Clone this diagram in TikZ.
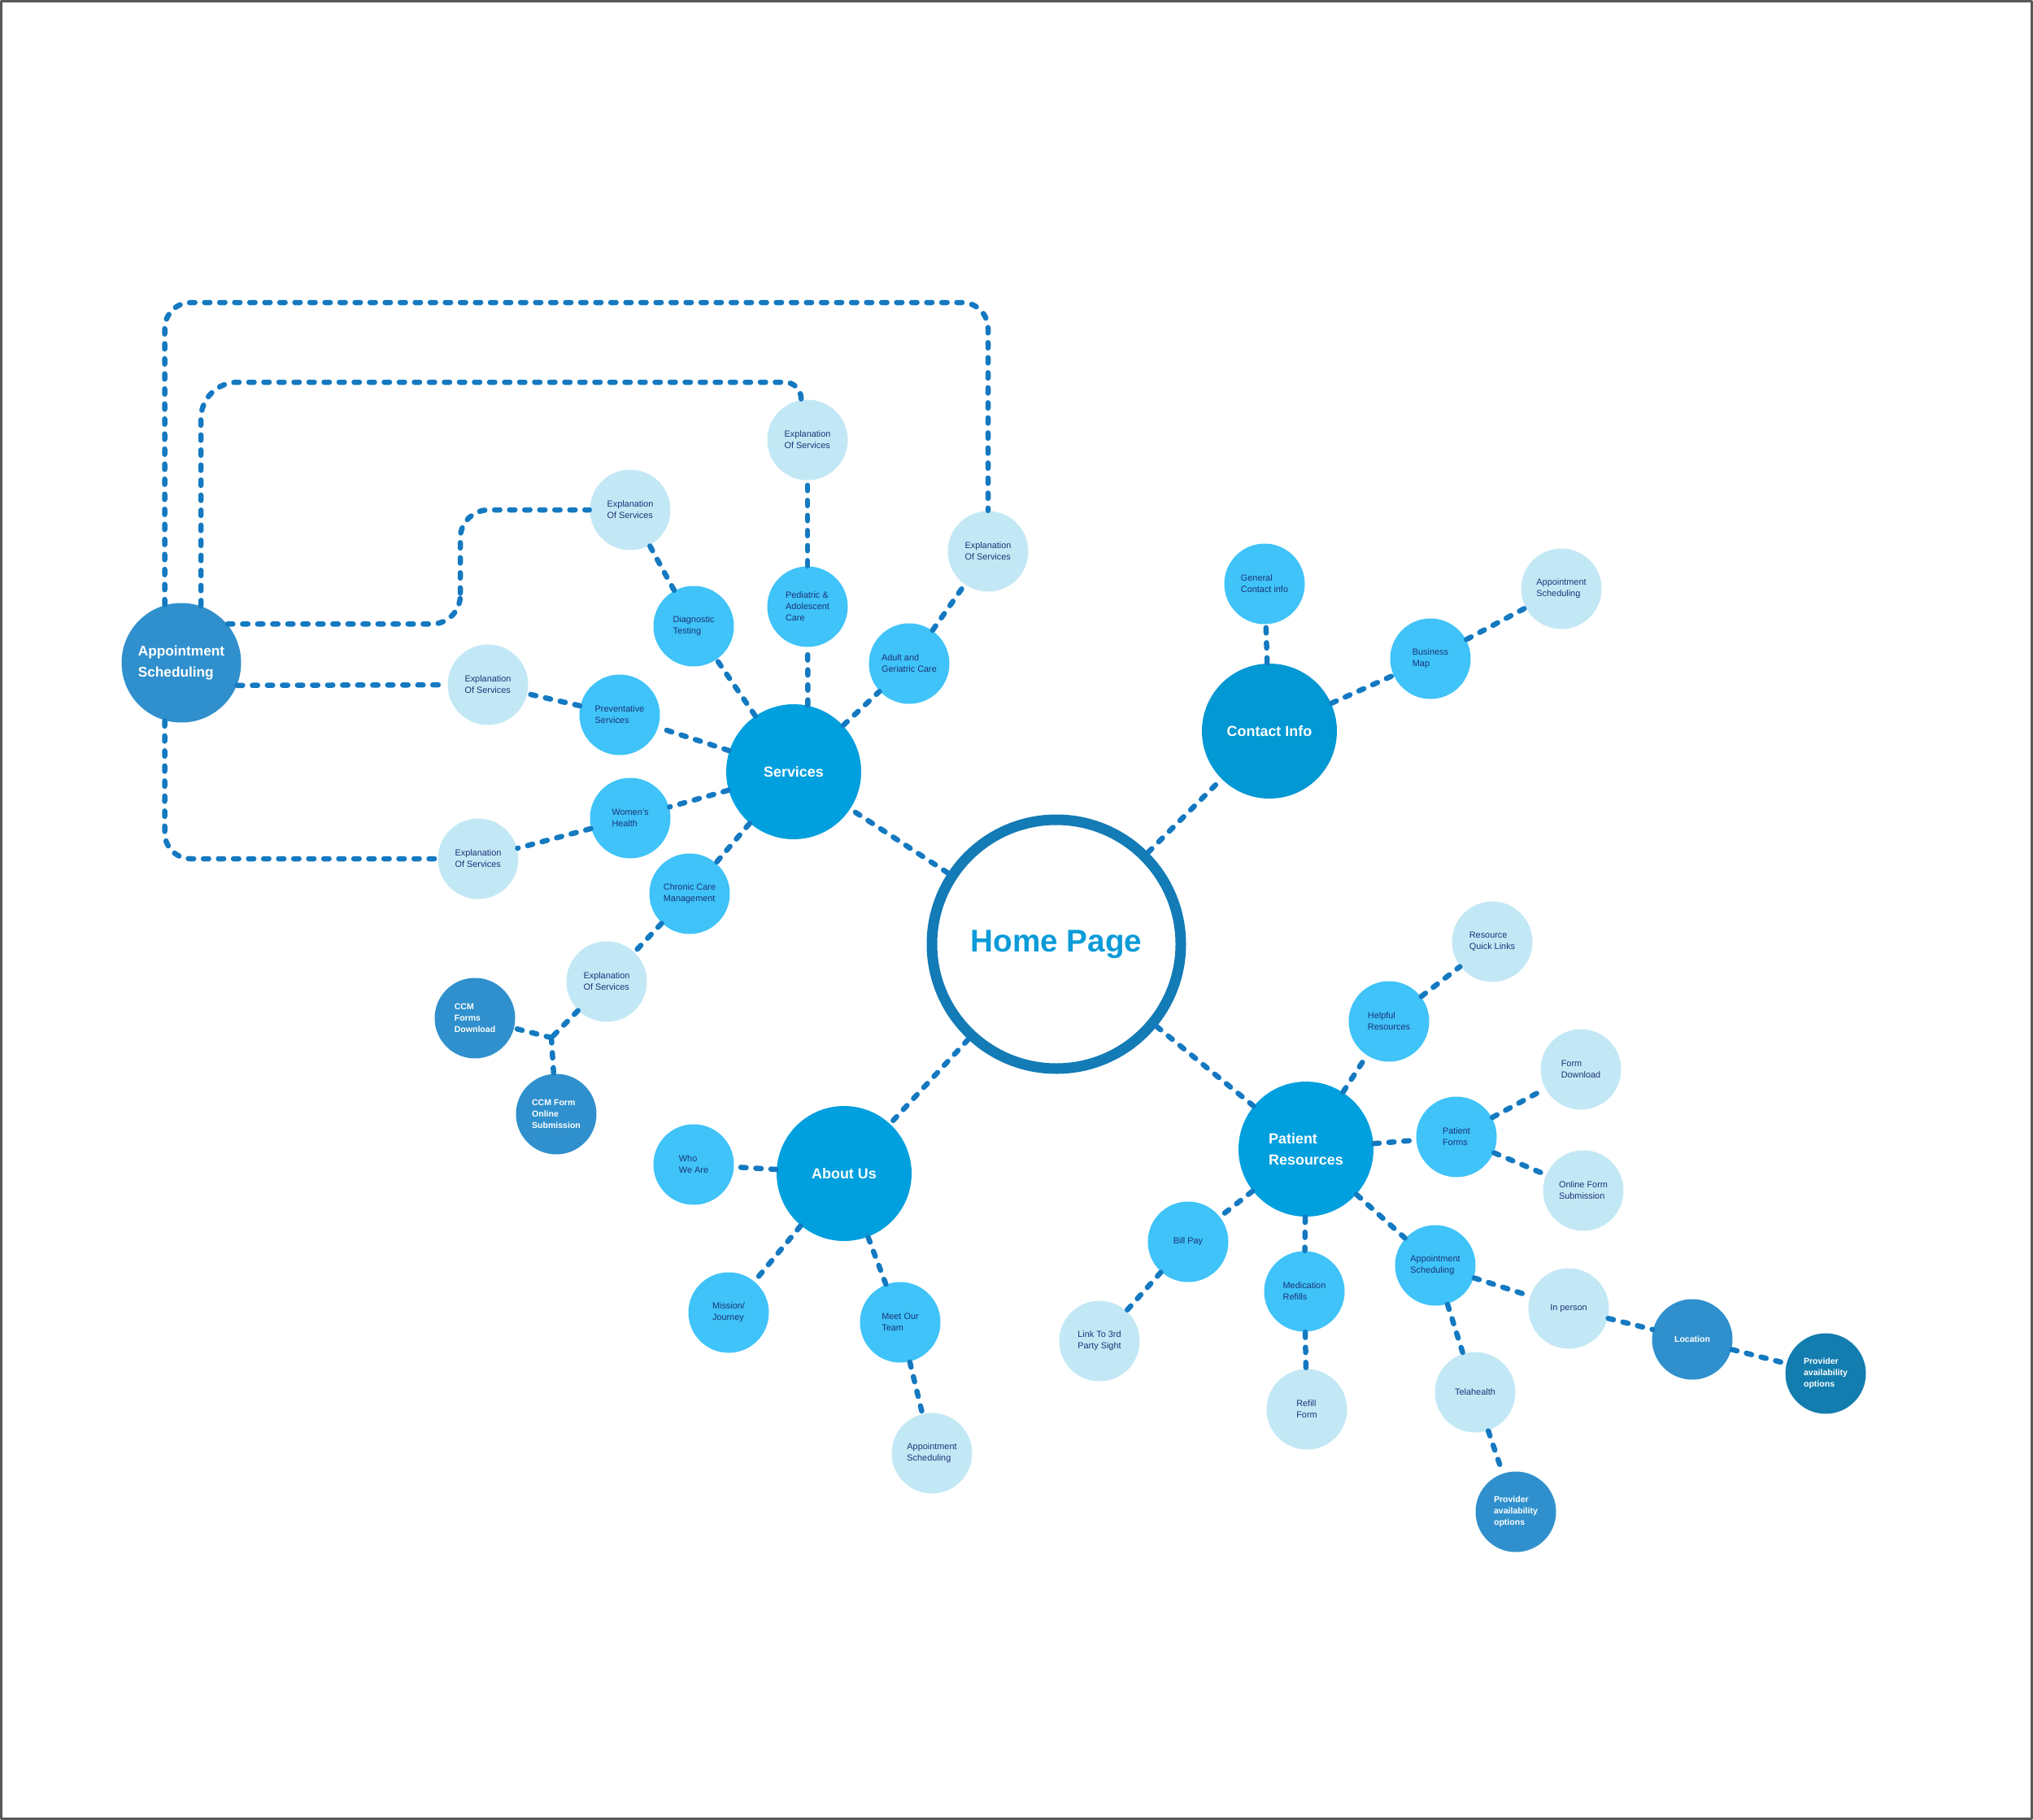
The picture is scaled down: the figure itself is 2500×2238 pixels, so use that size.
\documentclass[tikz,border=0pt]{standalone}
\usepackage{fontspec}
\setmainfont{Liberation Sans}
\definecolor{hubblue}{HTML}{009FDE}
\definecolor{contactblue}{HTML}{0198D3}
\definecolor{leafblue}{HTML}{3FC3F8}
\definecolor{paleblue}{HTML}{C3E8F5}
\definecolor{midblue}{HTML}{2F90CD}
\definecolor{darkblue}{HTML}{127DAE}
\definecolor{ringblue}{HTML}{137BB5}
\definecolor{linkblue}{HTML}{1479C0}
\definecolor{homeblue}{HTML}{0B9BD8}
\definecolor{inkblue}{HTML}{1C3378}

\begin{document}
\begin{tikzpicture}[x=0.1mm,y=-0.1mm,line cap=round,line join=round,
  link/.style={draw=linkblue,line width=0.65mm,dash pattern=on 0.65mm off 1.2mm},
  hub/.style={circle,fill=hubblue,minimum size=16.6mm,inner sep=0pt,text=white,align=left,font=\fontsize{5.1}{7.3}\selectfont\bfseries},
  leaf/.style={circle,fill=leafblue,minimum size=9.9mm,inner sep=0pt,text=inkblue,align=left,font=\fontsize{3.1}{4}\selectfont},
  paleleaf/.style={leaf,fill=paleblue},
  midleaf/.style={leaf,fill=midblue,text=white,font=\fontsize{3}{4}\selectfont\bfseries},
  darkleaf/.style={midleaf,fill=darkblue}]
\useasboundingbox (0,0) rectangle (2500,2238);
\draw[gray!70!black,line width=0.25mm] (1.5,1.5) rectangle (2498.5,2236.5);

\node[circle,draw=ringblue,line width=1.3mm,minimum size=30.6mm,fill=white,text=homeblue,font=\fontsize{11}{13}\selectfont\bfseries] (home) at (1299,1161) {Home Page};
\node[hub] (services) at (976,949) {Services};
\node[hub,fill=contactblue] (contact) at (1561,899) {Contact Info};
\node[hub] (about) at (1038,1443) {About Us};
\node[hub] (patient) at (1606,1413) {Patient\\Resources};
\node[hub,fill=midblue,minimum size=14.7mm,font=\fontsize{4.9}{7.3}\selectfont\bfseries] (appt) at (223,815) {Appointment\\Scheduling};

\node[leaf] (diag) at (853,770) {Diagnostic\\Testing};
\node[leaf] (pedi) at (993,746) {Pediatric \&\\Adolescent\\Care};
\node[leaf] (adult) at (1118,816) {Adult and\\Geriatric Care};
\node[leaf] (prev) at (762,879) {Preventative\\Services};
\node[leaf] (women) at (775,1006) {Women's\\Health};
\node[leaf] (chronic) at (848,1099) {Chronic Care\\Management};
\node[paleleaf] (expa) at (993,541) {Explanation\\Of Services};
\node[paleleaf] (expb) at (775,627) {Explanation\\Of Services};
\node[paleleaf] (expc) at (1215,678) {Explanation\\Of Services};
\node[paleleaf] (expd) at (600,842) {Explanation\\Of Services};
\node[paleleaf] (expe) at (588,1056) {Explanation\\Of Services};
\node[paleleaf] (expf) at (746,1207) {Explanation\\Of Services};
\node[midleaf] (ccmdown) at (584,1252) {CCM\\Forms\\Download};
\node[midleaf] (ccmsub) at (684,1370) {CCM Form\\Online\\Submission};
\coordinate (ccmfork) at (678,1276);

\node[leaf] (general) at (1555,718) {General\\Contact info};
\node[leaf] (bizmap) at (1759,810) {Business\\Map};
\node[paleleaf] (contactappt) at (1920,724) {Appointment\\Scheduling};

\node[leaf] (who) at (853,1432) {Who\\We Are};
\node[leaf] (mission) at (896,1614) {Mission/\\Journey};
\node[leaf] (team) at (1107,1626) {Meet Our\\Team};
\node[paleleaf] (teamappt) at (1146,1787) {Appointment\\Scheduling};

\node[leaf] (helpful) at (1708,1256) {Helpful\\Resources};
\node[paleleaf] (quick) at (1835,1158) {Resource\\Quick Links};
\node[leaf] (forms) at (1791,1398) {Patient\\Forms};
\node[paleleaf] (formdown) at (1944,1315) {Form\\Download};
\node[paleleaf] (formsub) at (1947,1464) {Online Form\\Submission};
\node[leaf] (patappt) at (1765,1556) {Appointment\\Scheduling};
\node[paleleaf] (inperson) at (1929,1609) {In person};
\node[midleaf] (location) at (2081,1647) {Location};
\node[darkleaf] (provright) at (2245,1689) {Provider\\availability\\options};
\node[paleleaf] (telehealth) at (1814,1712) {Telahealth};
\node[midleaf] (provdown) at (1864,1859) {Provider\\availability\\options};
\node[leaf] (meds) at (1604,1588) {Medication\\Refills};
\node[paleleaf] (refill) at (1607,1733) {Refill\\Form};
\node[leaf] (billpay) at (1461,1527) {Bill Pay};
\node[paleleaf] (thirdparty) at (1352,1649) {Link To 3rd\\Party Sight};

\draw[link] (home) -- (services);
\draw[link] (home) -- (contact);
\draw[link] (home) -- (about);
\draw[link] (home) -- (patient);

\draw[link] (services) -- (diag);
\draw[link] (services.78) -- (pedi);
\draw[link] (services) -- (adult);
\draw[link] (services) -- (prev);
\draw[link] (services) -- (women);
\draw[link] (services) -- (chronic);
\draw[link] (diag) -- (expb);
\draw[link] (pedi) -- (expa);
\draw[link] (adult) -- (expc);
\draw[link] (prev) -- (expd);
\draw[link] (women) -- (expe);
\draw[link] (chronic) -- (expf);
\draw[link] (expf) -- (ccmfork);
\draw[link] (ccmfork) -- (ccmdown);
\draw[link] (ccmfork) -- (ccmsub);

\draw[link,rounded corners=3.2mm] (appt.106) |- (1215,372) -- (expc);
\draw[link] (appt.71) [rounded corners=4.5mm] -- (247,470) [rounded corners=2mm] -- (985,470) -- (expa.99);
\draw[link,rounded corners=3.5mm] (appt.40) -| (566,700) |- (expb);
\draw[link] (appt.-22) -- (expd);
\draw[link,rounded corners=3.2mm] (appt.-106) |- (expe);

\draw[link] (contact) -- (general);
\draw[link] (contact) -- (bizmap);
\draw[link] (bizmap) -- (contactappt);

\draw[link] (about) -- (who);
\draw[link] (about) -- (mission);
\draw[link] (about) -- (team);
\draw[link] (team) -- (teamappt);

\draw[link] (patient) -- (helpful);
\draw[link] (helpful) -- (quick);
\draw[link] (patient) -- (forms);
\draw[link] (forms) -- (formdown);
\draw[link] (forms) -- (formsub);
\draw[link] (patient) -- (patappt);
\draw[link] (patappt) -- (inperson);
\draw[link] (inperson) -- (location);
\draw[link] (location) -- (provright);
\draw[link] (patappt) -- (telehealth);
\draw[link] (telehealth) -- (provdown);
\draw[link] (patient) -- (meds);
\draw[link] (meds) -- (refill);
\draw[link] (patient) -- (billpay);
\draw[link] (billpay) -- (thirdparty);
\end{tikzpicture}
\end{document}
